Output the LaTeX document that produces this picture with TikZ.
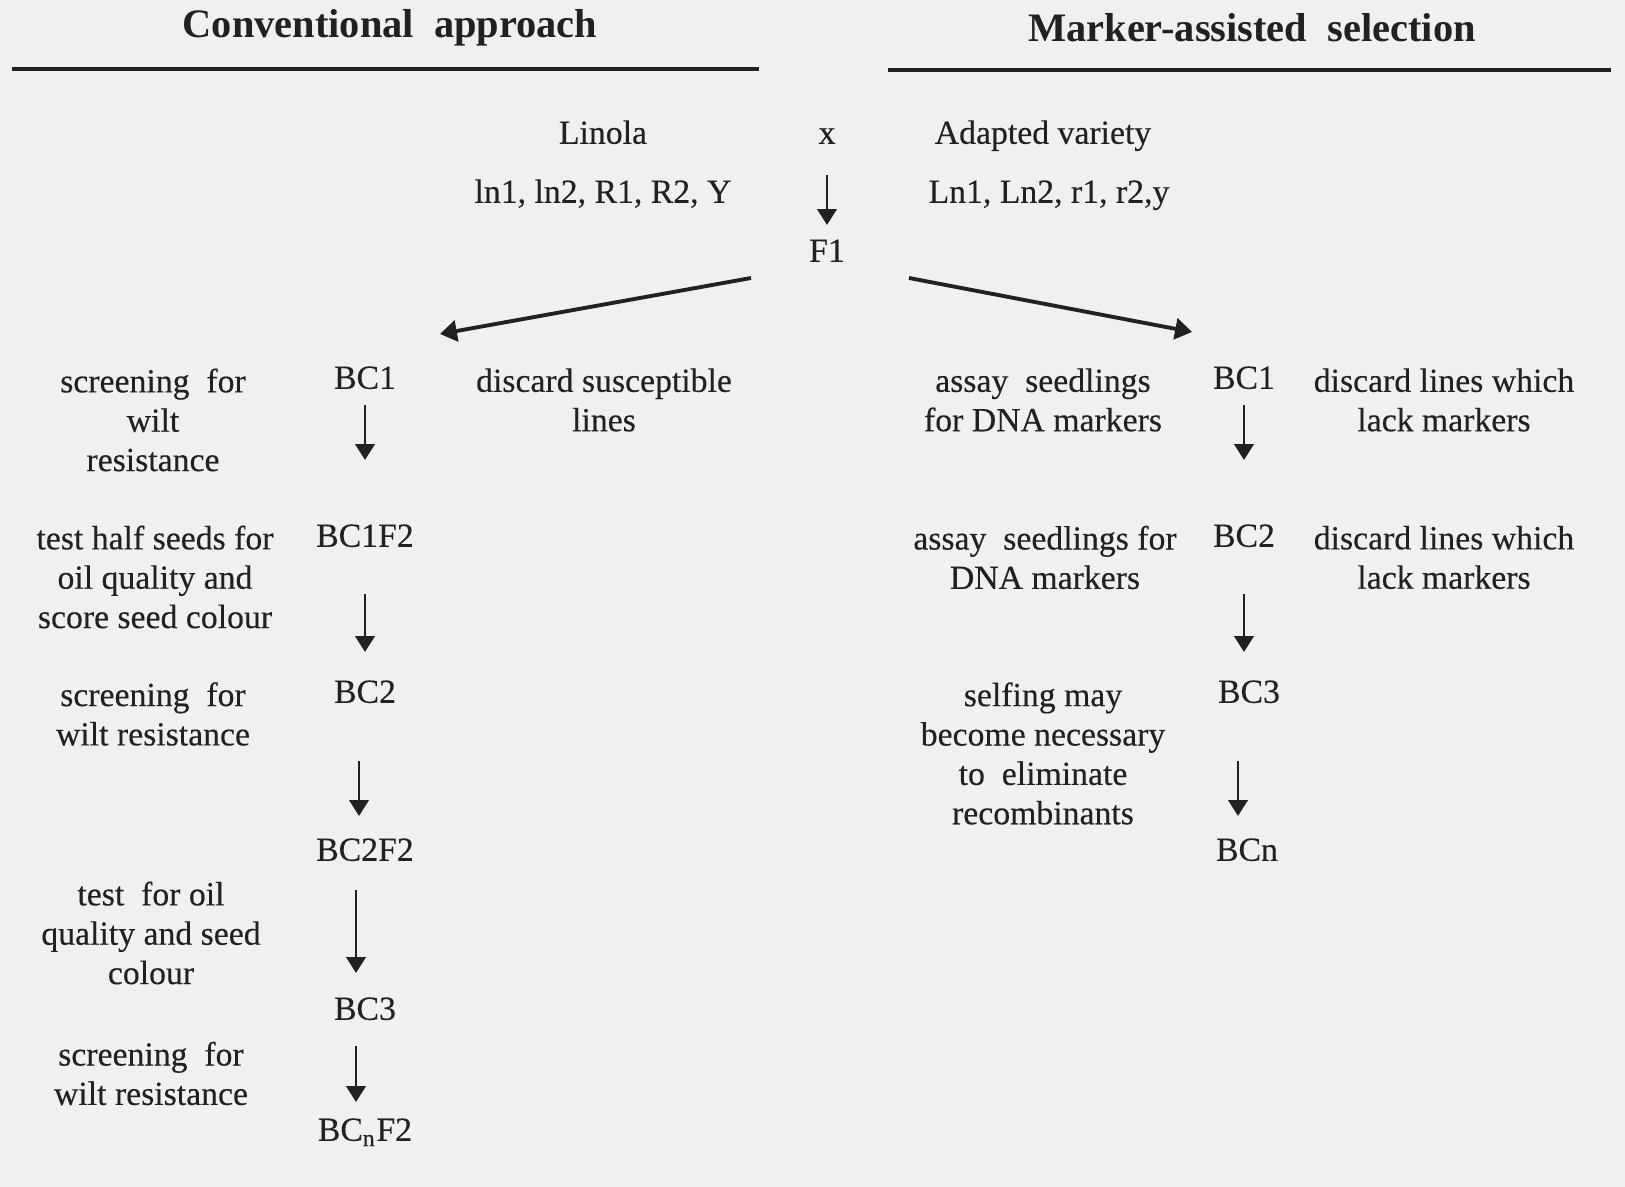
\documentclass[tikz,border=0pt]{standalone}
\usepackage{fontspec}
\setmainfont{Liberation Serif}[UprightFeatures={FakeBold=0.3}]
\usetikzlibrary{arrows.meta}
\definecolor{paper}{gray}{0.94}
\definecolor{ink}{gray}{0.13}
\tikzstyle{heading} = [font=\fontsize{11.5}{13}\selectfont\bfseries]
\tikzstyle{stage} = [text centered, text height=7pt, text depth=2pt, inner sep=1pt]
\tikzstyle{note} = [align=center, inner sep=1pt]
\tikzstyle{arrow} = [line width=0.75pt,-{Triangle[length=4.5pt,width=5.5pt]}]
\tikzstyle{fork} = [line width=1.1pt,-{Triangle[length=4.8pt,width=6pt]}]
\tikzstyle{headrule} = [line width=1.1pt]

\begin{document}
\begin{tikzpicture}[color=ink, every node/.style={font=\fontsize{9.6}{11.2}\selectfont}]

\useasboundingbox (0,0) rectangle (16.25,-11.87);
\fill[paper] (0,0) rectangle (16.25,-11.87);

% headings
\node (convtitle) [heading] at (3.90,-0.28) {Conventional\ \ approach};
\node (mastitle) [heading] at (12.52,-0.28) {Marker-assisted\ \ selection};
\draw [headrule] (0.12,-0.69) -- (7.59,-0.69);
\draw [headrule] (8.88,-0.70) -- (16.11,-0.70);

% cross
\node (linola) [stage] at (6.03,-1.35) {Linola};
\node (linolagenes) [stage] at (6.03,-1.94) {ln1, ln2, R1, R2, Y};
\node (cross) [stage] at (8.27,-1.35) {x};
\node (adapted) [stage] at (10.43,-1.35) {Adapted variety};
\node (adaptedgenes) [stage] at (10.49,-1.94) {Ln1, Ln2, r1, r2,y};
\node (F1) [stage] at (8.27,-2.53) {F1};
\coordinate (forkLstart) at (7.51,-2.78);
\coordinate (forkLend) at (4.40,-3.34);
\coordinate (forkRstart) at (9.09,-2.78);
\coordinate (forkRend) at (11.92,-3.32);

% conventional approach
\node (cBC1) [stage] at (3.65,-3.80) {BC1};
\node (cBC1F2) [stage] at (3.65,-5.38) {BC1F2};
\node (cBC2) [stage] at (3.65,-6.94) {BC2};
\node (cBC2F2) [stage] at (3.65,-8.52) {BC2F2};
\node (cBC3) [stage] at (3.65,-10.11) {BC3};
\node (cBCnF2) [stage] at (3.65,-11.32) {BC\textsubscript{n}F2};

\node (wiltA) [note] at (1.53,-4.20) {screening\ \ for\\wilt\\resistance};
\node (discardsus) [note] at (6.04,-4.00) {discard susceptible\\lines};
\node (halfseed) [note] at (1.55,-5.77) {test half seeds for\\oil quality and\\score seed colour};
\node (wiltB) [note] at (1.53,-7.14) {screening\ \ for\\wilt resistance};
\node (oiltest) [note] at (1.51,-9.33) {test\ \ for oil\\quality and seed\\colour};
\node (wiltC) [note] at (1.51,-10.735) {screening\ \ for\\wilt resistance};

% marker-assisted selection
\node (mBC1) [stage] at (12.44,-3.80) {BC1};
\node (mBC2) [stage] at (12.44,-5.38) {BC2};
\node (mBC3) [stage] at (12.49,-6.94) {BC3};
\node (mBCn) [stage] at (12.47,-8.52) {BCn};

\node (assayA) [note] at (10.43,-4.00) {assay\ \ seedlings\\for DNA markers};
\node (assayB) [note] at (10.45,-5.575) {assay\ \ seedlings for\\DNA markers};
\node (discardA) [note] at (14.44,-4.00) {discard lines which\\lack markers};
\node (discardB) [note] at (14.44,-5.575) {discard lines which\\lack markers};
\node (selfing) [note] at (10.43,-7.535) {selfing may\\become necessary\\to\ \ eliminate\\recombinants};

% arrows
\draw [arrow, shorten <=2mm, shorten >=0.8mm] (cross) -- (F1);
\draw [fork] (forkLstart) -- (forkLend);
\draw [fork] (forkRstart) -- (forkRend);

\draw [arrow, shorten <=0.5mm, shorten >=5.8mm] (cBC1.south) -- (cBC1.south |- cBC1F2.north);
\draw [arrow, shorten <=3.6mm, shorten >=2.2mm] (cBC1F2.south) -- (cBC1F2.south |- cBC2.north);
\draw [arrow, shorten <=4.7mm, shorten >=1.6mm] ([xshift=-0.6mm]cBC2.south) -- ([xshift=-0.6mm]cBC2.south |- cBC2F2.north);
\draw [arrow, shorten <=1.8mm, shorten >=1.8mm] ([xshift=-0.9mm]cBC2F2.south) -- ([xshift=-0.9mm]cBC2F2.south |- cBC3.north);
\draw [arrow, shorten <=1.5mm, shorten >=1.0mm] ([xshift=-0.9mm]cBC3.south) -- ([xshift=-0.9mm]cBC3.south |- cBCnF2.north);

\draw [arrow, shorten <=0.5mm, shorten >=5.8mm] (mBC1.south) -- (mBC1.south |- mBC2.north);
\draw [arrow, shorten <=3.6mm, shorten >=2.2mm] (mBC2.south) -- (mBC2.south |- mBC3.north);
\draw [arrow, shorten <=4.7mm, shorten >=1.6mm] ([xshift=-1.1mm]mBC3.south) -- ([xshift=-1.1mm]mBC3.south |- mBCn.north);

\end{tikzpicture}
\end{document}
